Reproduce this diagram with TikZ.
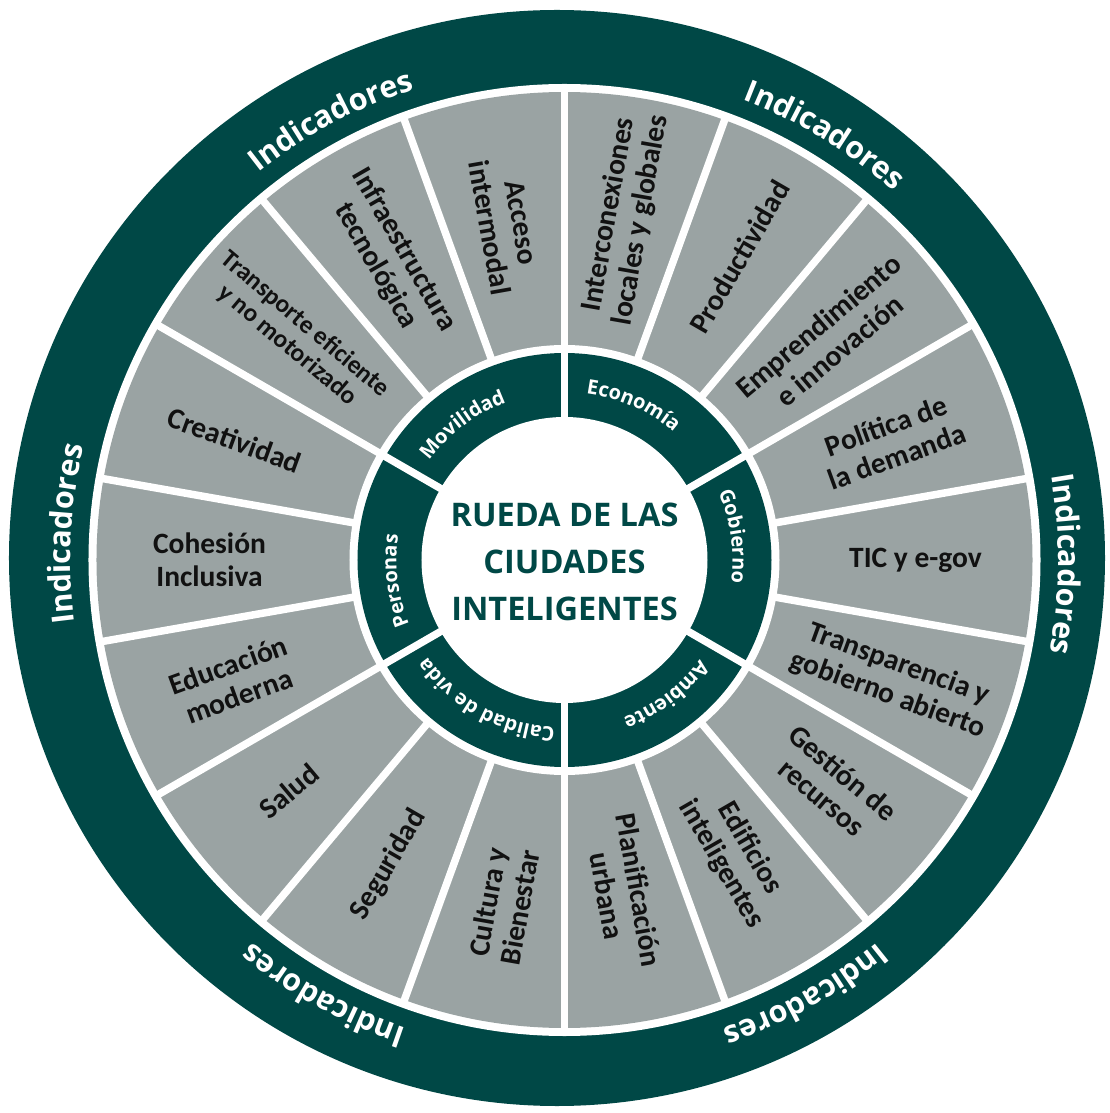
\documentclass[tikz,border=0pt]{standalone}
\usepackage{fontspec}
\setmainfont{Carlito}
\newfontfamily\osf{Open Sans}
\usetikzlibrary{decorations.text}
\definecolor{dkgreen}{HTML}{004846}
\definecolor{segray}{HTML}{9AA3A3}
\definecolor{labtext}{HTML}{111111}
\newcommand\arctext[4]{%
  \path[decorate, decoration={text along path, text align=center, text color=white, text={#4}}]
    ({#2+#3}:#1) arc[start angle={#2+#3}, end angle={#2-#3}, radius=#1];}
\begin{document}
\begin{tikzpicture}[x=1pt,y=1pt,
  seg/.style={font=\fontsize{29.5}{32.5}\selectfont\bfseries, text=labtext, align=center, inner sep=0pt},
  sepline/.style={white, line width=7.5pt},
  titlestyle/.style={font=\osf\bfseries\fontsize{32.5}{46.7}\selectfont, text=dkgreen, align=center, inner sep=0pt}
]
\useasboundingbox (-564.5,-553) rectangle (545.5,560);
\clip (-564.5,-553) rectangle (545.5,560);
\fill[white] (-564.5,-553) rectangle (545.5,560);
% outer ring
\fill[dkgreen] (-7.5,2) circle[radius=548];
\fill[white] (0,0) circle[radius=476];
% gray segments
\fill[segray] (0,0) circle[radius=468];
\foreach \a in {10,30,...,350} \draw[sepline] (0,0) -- (\a:472);
% category ring
\fill[white] (0,0) circle[radius=215];
\fill[dkgreen] (0,0) circle[radius=207];
\foreach \a in {30,90,...,330} \draw[sepline] (0,0) -- (\a:211);
\fill[white] (0,0) circle[radius=143];
% title
\node[titlestyle] (title) at (0,-2) {RUEDA DE LAS\\CIUDADES\\INTELIGENTES};
% outer labels
\foreach \a in {-0.5,58.5,118,177,241,299}
  \arctext{494}{\a}{40}{|\osf\bfseries\fontsize{30.5}{32}\selectfont|Indicadores};
% category labels
\arctext{168}{127}{50}{|\osf\bfseries\fontsize{20}{24}\selectfont|Movilidad}
\arctext{168}{66}{50}{|\osf\bfseries\fontsize{20}{24}\selectfont|Economía}
\arctext{168}{8}{50}{|\osf\bfseries\fontsize{20}{24}\selectfont|Gobierno}
\arctext{168}{-53}{50}{|\osf\bfseries\fontsize{20}{24}\selectfont|Ambiente}
\arctext{168}{-119}{50}{|\osf\bfseries\fontsize{20}{24}\selectfont|Calidad de vida}
\arctext{168}{187}{50}{|\osf\bfseries\fontsize{20}{24}\selectfont|Personas}
% segment labels
\node[seg, rotate=80]  (s1)  at (80:348)   {Interconexiones\\locales y globales};
\node[seg, rotate=60]  (s2)  at (60:350)   {Productividad};
\node[seg, rotate=40]  (s3)  at (40:345)   {Emprendimiento\\e innovación};
\node[seg, rotate=20]  (s4)  at (20:348)   {Política de\\la demanda};
\node[seg, rotate=0]   (s5)  at (0:351)    {TIC y e-gov};
\node[seg, rotate=-20] (s6)  at (-20:350)  {Transparencia y\\gobierno abierto};
\node[seg, rotate=-40] (s7)  at (-40:350)  {Gestión de\\recursos};
\node[seg, rotate=-60] (s8)  at (-60:342)  {Edificios\\inteligentes};
\node[seg, rotate=-80] (s9)  at (-80:338)  {Planificación\\urbana};
\node[seg, rotate=80]  (s10) at (-100:350) {Cultura y\\Bienestar};
\node[seg, rotate=60]  (s11) at (-120:352) {Seguridad};
\node[seg, rotate=40]  (s12) at (-140:360) {Salud};
\node[seg, rotate=20]  (s13) at (200:352)  {Educación\\moderna};
\node[seg, rotate=0]   (s14) at (180:355)  {Cohesión\\Inclusiva};
\node[seg, rotate=-20] (s15) at (160:351)  {Creatividad};
\node[seg, rotate=-40, font=\fontsize{25.5}{27.5}\selectfont\bfseries] (s16) at (140:350) {Transporte eficiente\\y no motorizado};
\node[seg, rotate=-60] (s17) at (120:349)  {Infraestructura\\tecnológica};
\node[seg, rotate=-80] (s18) at (100:340)  {Acceso\\intermodal};
\end{tikzpicture}
\end{document}
